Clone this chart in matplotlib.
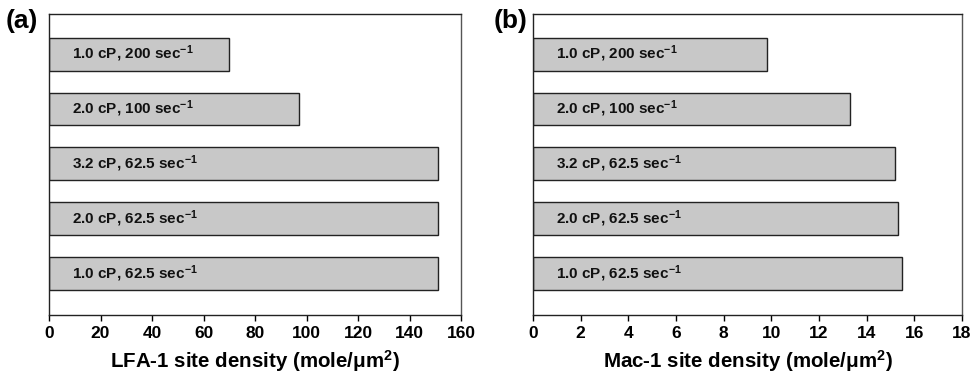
import matplotlib
matplotlib.use("Agg")
import matplotlib.pyplot as plt

plt.rcParams['font.family'] = ['Liberation Sans', 'DejaVu Sans']
plt.rcParams['font.weight'] = 'bold'
plt.rcParams['mathtext.fontset'] = 'custom'
plt.rcParams['mathtext.rm'] = 'Liberation Sans:bold'
plt.rcParams['mathtext.it'] = 'Liberation Sans:bold'
plt.rcParams['mathtext.bf'] = 'Liberation Sans:bold'

conditions = [
    "1.0 cP, 200 sec$^{-1}$",
    "2.0 cP, 100 sec$^{-1}$",
    "3.2 cP, 62.5 sec$^{-1}$",
    "2.0 cP, 62.5 sec$^{-1}$",
    "1.0 cP, 62.5 sec$^{-1}$",
]
lfa1_density = [70, 97, 151, 151, 151]
mac1_density = [9.8, 13.3, 15.2, 15.3, 15.5]

lfa1_ticks = [0, 20, 40, 60, 80, 100, 120, 140, 160]
mac1_ticks = [0, 2, 4, 6, 8, 10, 12, 14, 16, 18]

fig = plt.figure(figsize=(9.78, 3.79), dpi=100)
ax_a = fig.add_axes([0.0501, 0.1689, 0.4213, 0.7942])
ax_b = fig.add_axes([0.545, 0.1689, 0.4387, 0.7942])

panels = [
    (ax_a, lfa1_density, lfa1_ticks, "LFA-1 site density (mole/\u03bcm$^{2}$)", "(a)", 0.0225),
    (ax_b, mac1_density, mac1_ticks, "Mac-1 site density (mole/\u03bcm$^{2}$)", "(b)", 0.5225),
]

for ax, values, ticks, xlabel, letter, lx in panels:
    ypos = list(range(len(conditions)))
    ax.barh(ypos, values, height=0.6, color="#c8c8c8",
            edgecolor="#222222", linewidth=1.0)
    for y, lab in zip(ypos, conditions):
        ax.annotate(lab, xy=(0, y), xytext=(23, 0), textcoords="offset pixels",
                    ha="left", va="center", fontsize=11, fontweight="bold",
                    color="#111111")
    ax.set_ylim(4.75, -0.73)
    ax.set_xlim(ticks[0], ticks[-1])
    ax.set_xticks(ticks)
    ax.set_xticklabels([str(t) for t in ticks], fontsize=12.5, fontweight="bold")
    ax.set_yticks([])
    ax.tick_params(axis="x", direction="out", length=4, width=1, pad=4)
    for side in ["left", "bottom", "top"]:
        ax.spines[side].set_color("#222222")
        ax.spines[side].set_linewidth(1.0)
    ax.spines["right"].set_color("#555555")
    ax.spines["right"].set_linewidth(1.0)
    ax.set_xlabel(xlabel, fontsize=14.8, fontweight="bold", labelpad=5)
    fig.text(lx, 0.945, letter, fontsize=19, fontweight="bold",
             ha="center", va="center")

fig.savefig("out.png", dpi=100)
